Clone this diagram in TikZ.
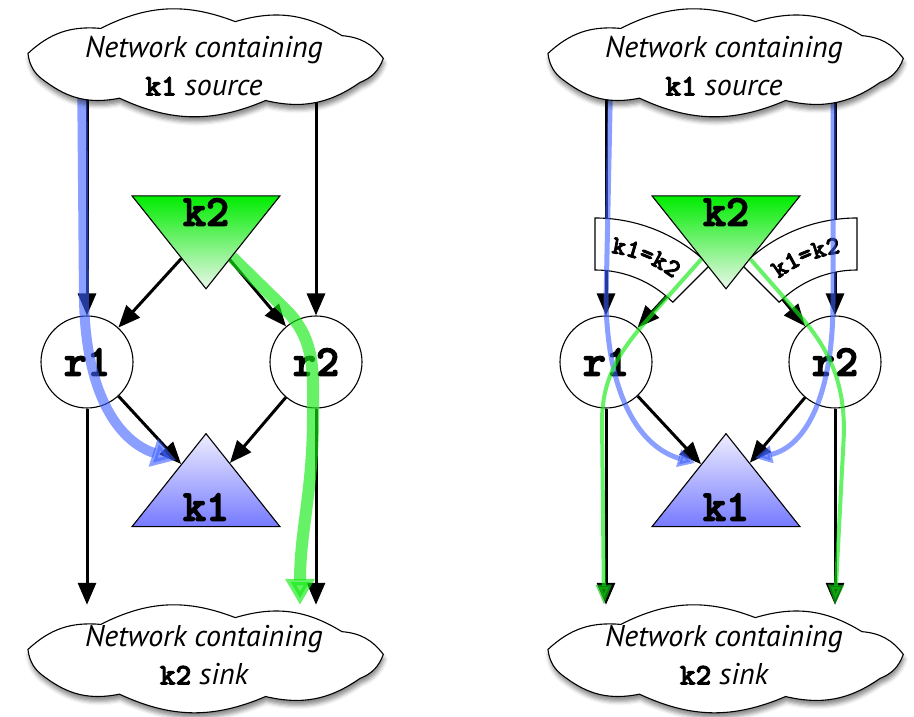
\documentclass[tikz,border=0pt]{standalone}
\usepackage{fontspec}
\newfontfamily\netfont{PT Sans}
\newfontfamily\codefont{lmmonolt10-bold}[Extension=.otf, FakeBold=3]
\usetikzlibrary{shapes.geometric,arrows.meta,calc,shadows.blur,decorations.text}

\definecolor{keyblue}{RGB}{118,122,255}
\definecolor{keybluetop}{RGB}{238,238,255}
\definecolor{keygreen}{RGB}{0,236,0}
\definecolor{keygreenbot}{RGB}{236,248,236}
\definecolor{markblue}{RGB}{60,95,255}
\definecolor{markgreen}{RGB}{20,235,20}

\newcommand\kw[1]{{\codefont\upshape #1}}
\newcommand\condfont{\fontsize{26}{26}\selectfont\codefont}

\pgfdeclarelayer{wires}
\pgfdeclarelayer{marks}
\pgfdeclarelayer{front}
\pgfsetlayers{wires,main,marks,front}

\tikzset{
    x=1pt, y=1pt,
    netspot/.style={ellipse, minimum width=380pt, minimum height=106pt, inner sep=0pt},
    puff/.style={draw, fill=white, line width=1.1pt,
        blur shadow={shadow xshift=1pt, shadow yshift=-5pt, shadow blur radius=4pt, shadow opacity=45}},
    nettext/.style={align=center, inner sep=0pt, font=\fontsize{30}{38}\selectfont\netfont\itshape},
    router/.style={circle, draw, fill=white, line width=1.1pt, minimum size=92pt,
        inner sep=0pt, font=\fontsize{44}{44}\selectfont\codefont},
    key/.style={isosceles triangle, isosceles triangle apex angle=77,
        isosceles triangle stretches, draw, line width=1.1pt, inner sep=0pt,
        minimum width=148pt, minimum height=93pt},
    srctri/.style={key, shape border rotate=90, top color=keybluetop, bottom color=keyblue},
    sinktri/.style={key, shape border rotate=270, top color=keygreen, bottom color=keygreenbot},
    tag/.style={inner sep=0pt, font=\fontsize{44}{44}\selectfont\codefont},
    wire/.style={-{Triangle[length=22pt,width=18pt]}, line width=3pt},
    cond/.style={draw, fill=white, line width=1.1pt},
    bluemark/.style={draw=markblue, opacity=0.6},
    greenmark/.style={draw=markgreen, opacity=0.65}
}

\begin{document}
\begin{tikzpicture}
    \useasboundingbox (0,0) rectangle (914,717);

    % networks and keys lie on top of everything
    \begin{pgfonlayer}{front}
    \node[netspot] (cloudA) at (204,655) {};
    \node[netspot] (cloudB) at (204,59) {};
    \node[netspot] (cloudC) at (724,655) {};
    \node[netspot] (cloudD) at (724,59) {};
    % puffy outline round each network
    \foreach \c in {cloudA,cloudB,cloudC,cloudD}
        \draw[puff] ($(\c)+({180*cos(5)},{41*sin(5)})$)
            \foreach \ang in {40,80,125,168,208,242,290,330,365}
            { to[bend right=24] ($(\c)+({180*cos(\ang)},{41*sin(\ang)})$) } -- cycle;
    \node[nettext] (txtA) at (204,651) {Network containing\\\kw{k1} source};
    \node[nettext] (txtB) at (204,62) {Network containing\\\kw{k2} sink};
    \node[nettext] (txtC) at (724,651) {Network containing\\\kw{k1} source};
    \node[nettext] (txtD) at (724,62) {Network containing\\\kw{k2} sink};

    \node[sinktri] (k2L) at (206,485.5) {};
    \node[tag] (k2Ltag) at (206,505) {k2};
    \node[srctri] (k1L) at (206,226) {};
    \node[tag] (k1Ltag) at (206,210) {k1};
    \node[sinktri] (k2R) at (726,485.5) {};
    \node[tag] (k2Rtag) at (726,505) {k2};
    \node[srctri] (k1R) at (726,226) {};
    \node[tag] (k1Rtag) at (726,210) {k1};
    \end{pgfonlayer}

    % routers
    \node[router] (r1L) at (87,355) {r1};
    \node[router] (r2L) at (316,355) {r2};
    \node[router] (r1R) at (606,355) {r1};
    \node[router] (r2R) at (835,355) {r2};

    % k1=k2 conditions on the k2 edges
    \coordinate (bendL) at (595,337);
    \coordinate (bendR) at (857,337);
    \draw[cond] (bendL) ++(90:162) arc[start angle=90, end angle=45, radius=162]
        -- ++(225:52) arc[start angle=45, end angle=90, radius=110] -- cycle;
    \path[decorate, decoration={text along path, text align=center, text={|\condfont|k1=k2}}]
        (bendL) ++(90:128) arc[start angle=90, end angle=45, radius=128];
    \draw[cond] (bendR) ++(90:162) arc[start angle=90, end angle=135, radius=162]
        -- ++(-45:52) arc[start angle=135, end angle=90, radius=110] -- cycle;
    \path[decorate, decoration={text along path, text align=center, text={|\condfont|k1=k2}}]
        (bendR) ++(135:128) arc[start angle=135, end angle=90, radius=128];

    % links
    \begin{pgfonlayer}{wires}
    \draw[wire] (r1L |- cloudA) -- (r1L);
    \draw[wire] (r2L |- cloudA) -- (r2L);
    \draw[wire] (k2L) -- (r1L);
    \draw[wire] (k2L) -- (r2L);
    \draw[wire] (r1L) -- (k1L);
    \draw[wire] (r2L) -- (k1L);
    \draw[wire] (r1L) -- (r1L |- cloudB.north);
    \draw[wire] (r2L) -- (r2L |- cloudB.north);

    \draw[wire] (r1R |- cloudC) -- (r1R);
    \draw[wire] (r2R |- cloudC) -- (r2R);
    \draw[wire] (k2R) -- (r1R);
    \draw[wire] (k2R) -- (r2R);
    \draw[wire] (r1R) -- (k1R);
    \draw[wire] (r2R) -- (k1R);
    \draw[wire] (r1R) -- (r1R |- cloudD.north);
    \draw[wire] (r2R) -- (r2R |- cloudD.north);
    \end{pgfonlayer}

    % paths taken by k1 and k2
    \begin{pgfonlayer}{marks}
    \draw[bluemark, line width=10pt, -{Triangle[length=24pt,width=28pt]}]
        ($(r1L |- cloudA)+(-5,0)$) -- ($(r1L)+(-3,62)$)
        .. controls ($(r1L)+(-1,-35)$) and ($(r1L)+(33,-80)$) .. ($(k1L)+(-30,31)$);
    \draw[greenmark, line width=12pt, -{Triangle[length=26pt,width=28pt]}]
        (k2L) -- ($(r2L)+(-30,52)$) to[out=-45, in=90] ($(r2L)+(-3,-55)$)
        to[out=-90, in=90] ($(r2L |- cloudB.north)+(-16,0)$);

    \draw[bluemark, line width=5pt, -{Triangle[length=17pt,width=17pt]}]
        ($(r1R |- cloudC)+(5,0)$) -- ($(r1R)+(0,60)$)
        .. controls ($(r1R)+(2,-35)$) and ($(r1R)+(34,-85)$) .. ($(k1R)+(-31,28)$);
    \draw[bluemark, line width=5pt, -{Triangle[length=17pt,width=17pt]}]
        ($(r2R |- cloudC)+(-2,0)$) -- ($(r2R)+(-2,60)$)
        .. controls ($(r2R)+(-2,-35)$) and ($(r2R)+(-30,-85)$) .. ($(k1R)+(29,33)$);
    \draw[greenmark, line width=4pt, -{Triangle[length=20pt,width=15pt,color=markgreen!80!black]}]
        (k2R) -- ($(r1R)+(50,52)$) to[out=-132, in=90] ($(r1R)+(-4,-60)$)
        -- ($(r1R |- cloudD.north)+(-2,0)$);
    \draw[greenmark, line width=4pt, -{Triangle[length=20pt,width=15pt,color=markgreen!80!black]}]
        (k2R) -- ($(r2R)+(-40,52)$) to[out=-48, in=90] ($(r2R)+(9,-70)$)
        -- (r2R |- cloudD.north);
    \end{pgfonlayer}
\end{tikzpicture}
\end{document}
